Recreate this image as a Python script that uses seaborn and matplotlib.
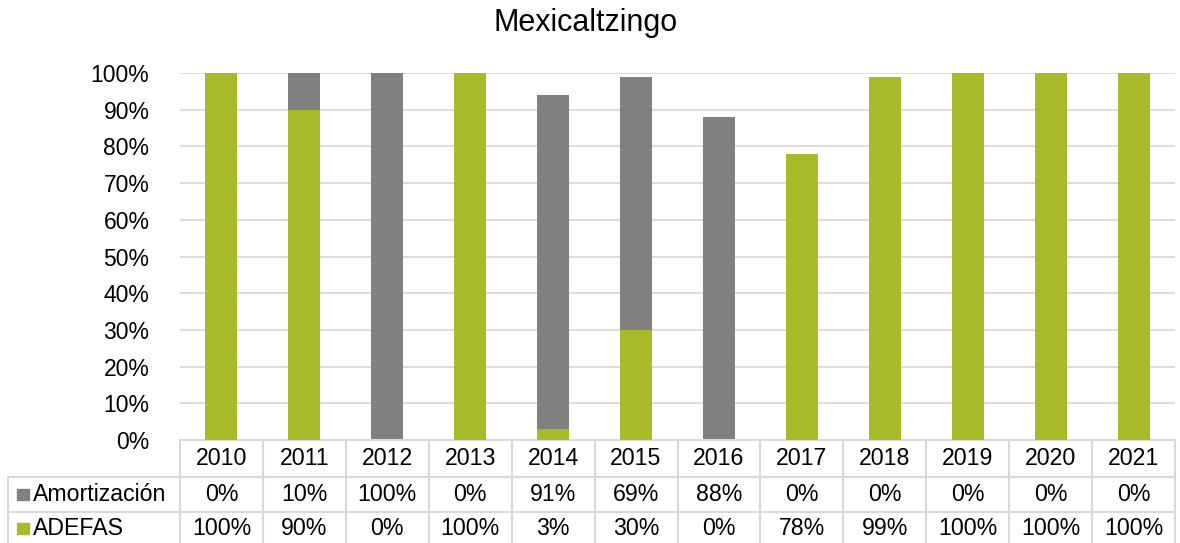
import matplotlib
matplotlib.use("Agg")
import matplotlib.pyplot as plt
import matplotlib.transforms as mtransforms
from matplotlib.ticker import PercentFormatter
import seaborn as sns
import pandas as pd

years = ["2010", "2011", "2012", "2013", "2014", "2015", "2016", "2017", "2018", "2019", "2020", "2021"]
amortizacion = [0, 10, 100, 0, 91, 69, 88, 0, 0, 0, 0, 0]
adefas = [100, 90, 0, 100, 3, 30, 0, 78, 99, 100, 100, 100]
series_names = ["Amortización", "ADEFAS"]

GREEN = "#A8B92A"
GRAY = "#808080"
GRID = "#D9D9D9"

sns.set_style("white")
plt.rcParams["font.family"] = ["Liberation Sans", "DejaVu Sans"]
plt.rcParams["text.color"] = "black"
plt.rcParams["ytick.color"] = "black"

df = pd.DataFrame({"year": years, "Amortización": amortizacion, "ADEFAS": adefas})
df["total"] = df["Amortización"] + df["ADEFAS"]

W, H = 1180, 543
fig = plt.figure(figsize=(W / 100, H / 100), dpi=100)
ax = fig.add_axes([180 / W, (H - 440) / H, 995 / W, (440 - 73) / H])

sns.barplot(data=df, x="year", y="total", color=GRAY, width=0.385, ax=ax, zorder=2,
            saturation=1, linewidth=0)
sns.barplot(data=df, x="year", y="ADEFAS", color=GREEN, width=0.385, ax=ax, zorder=3,
            saturation=1, linewidth=0)

ax.set_ylim(0, 100)
ax.set_xlim(-0.5, len(years) - 0.5)
ax.set_yticks(range(0, 101, 10))
ax.yaxis.set_major_formatter(PercentFormatter(decimals=0))
ax.grid(axis="y", color=GRID, linewidth=1.3, zorder=0)
ax.set_axisbelow(True)
ax.set_xlabel("")
ax.set_ylabel("")
ax.set_xticks([])
ax.tick_params(axis="y", length=0, labelsize=16.5, pad=22, labelcolor="black")
for s in ["top", "right", "left", "bottom"]:
    ax.spines[s].set_visible(False)

fig.suptitle("Mexicaltzingo", fontsize=22, y=1 - 23 / H, va="center", x=586 / W, color="black")

# data table below the plot
trans = mtransforms.blended_transform_factory(ax.transData, fig.transFigure)
def fy(py):
    return (H - py) / H

y_hdr_top, y_r1, y_r2, y_bot = 440, 477, 512, 543
n = len(years)
lw = 1.5
FS = 16.7
ax.plot([-0.5, n - 0.5], [fy(y_hdr_top)] * 2, transform=trans, color=GRID, lw=lw, clip_on=False)
left_x = ax.transData.inverted().transform((8, 0))[0]
for py in (y_r1, y_r2):
    ax.plot([left_x, n - 0.5], [fy(py)] * 2, transform=trans, color=GRID, lw=lw, clip_on=False)
for k in range(n + 1):
    ax.plot([k - 0.5] * 2, [fy(y_hdr_top), fy(y_bot)], transform=trans, color=GRID, lw=lw, clip_on=False)
ax.plot([left_x] * 2, [fy(y_r1), fy(y_bot)], transform=trans, color=GRID, lw=lw, clip_on=False)

for i, yr in enumerate(years):
    ax.text(i, fy((y_hdr_top + y_r1) / 2), yr, transform=trans, ha="center", va="center", fontsize=FS)
    ax.text(i, fy((y_r1 + y_r2) / 2), f"{amortizacion[i]}%", transform=trans, ha="center", va="center", fontsize=FS)
    ax.text(i, fy((y_r2 + y_bot) / 2 + 1), f"{adefas[i]}%", transform=trans, ha="center", va="center", fontsize=FS)

for name, col, (ya, yb) in zip(series_names, [GRAY, GREEN], [(y_r1, y_r2), (y_r2, y_bot)]):
    yc = (ya + yb) / 2 + (1 if name == "ADEFAS" else 0)
    fig.patches.append(plt.Rectangle((17 / W, fy(yc + 5.5)), 12 / W, 11 / H, transform=fig.transFigure,
                                     color=col, figure=fig))
    fig.text(33 / W, fy(yc), name, ha="left", va="center", fontsize=FS)

fig.savefig("out.png", dpi=100)
